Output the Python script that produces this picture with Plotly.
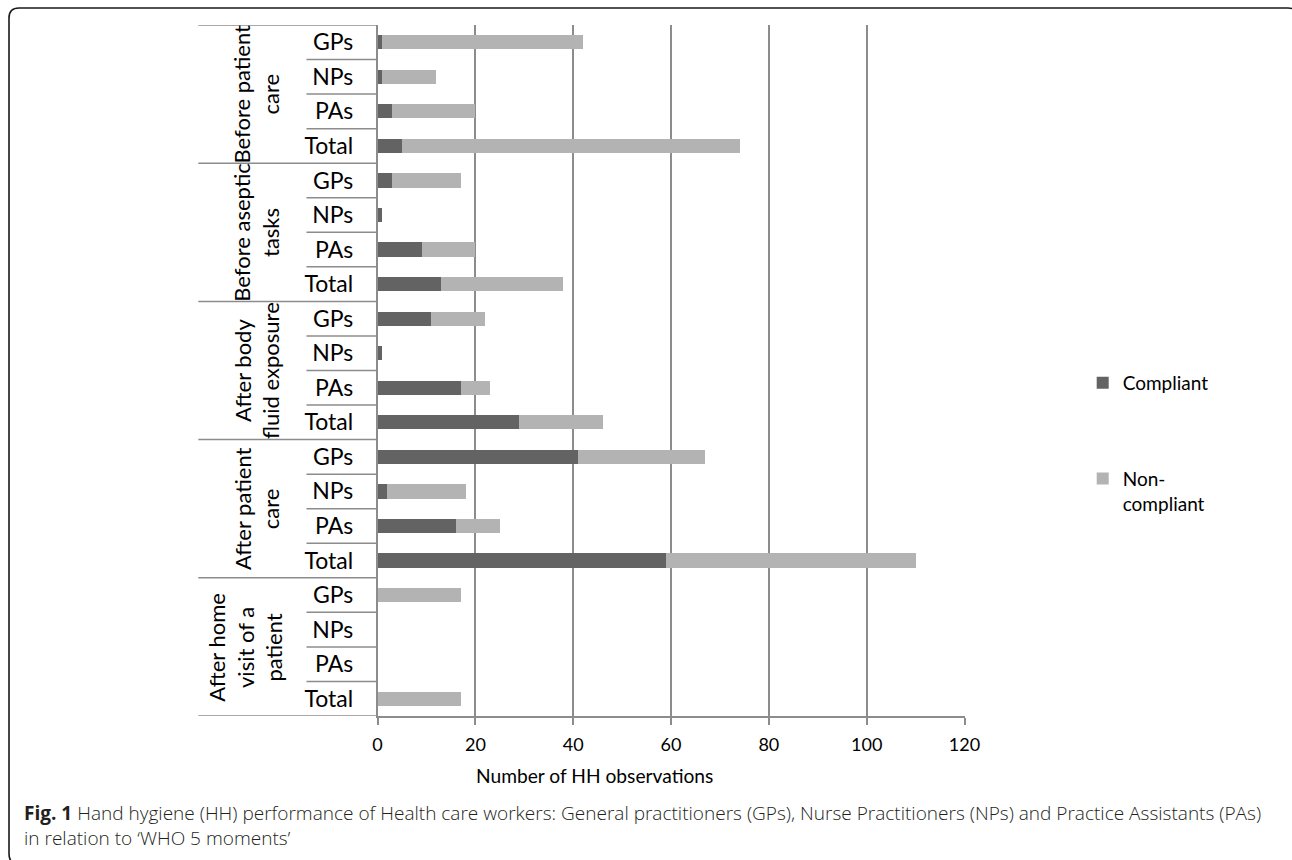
import plotly.graph_objects as go

W, H = 1292, 860

moments = ["Before patient<br>care", "Before aseptic<br>tasks", "After body<br>fluid exposure",
           "After patient<br>care", "After home<br>visit of a<br>patient"]
workers = ["GPs", "NPs", "PAs", "Total"]

compliant = [1, 1, 3, 5,
             3, 1, 9, 13,
             11, 1, 17, 29,
             41, 2, 16, 59,
             0, 0, 0, 0]
non_compliant = [41, 11, 17, 69,
                 14, 0, 11, 25,
                 11, 0, 6, 17,
                 26, 16, 9, 51,
                 17, 0, 0, 17]

x_ticks = [0, 20, 40, 60, 80, 100, 120]

rows = list(range(len(compliant)))
row_labels = [w for _ in moments for w in workers]

# empirical mapping of paper fraction -> screen pixel in the rendered page
X_OFF, X_SPAN = 5, 1269

def px(x):
    return (x - X_OFF) / X_SPAN

def py(y):
    return 1 - y / H

FONT = "Lato"
GRID = "#8c8c8c"

fig = go.Figure()
fig.add_trace(go.Bar(y=rows, x=compliant, orientation="h", name="Compliant",
                     marker=dict(color="#636363", line=dict(width=0)),
                     legendgroup="a", width=0.41))
fig.add_trace(go.Bar(y=rows, x=non_compliant, orientation="h", name="Non-<br>compliant",
                     marker=dict(color="#b3b3b3", line=dict(width=0)),
                     legendgroup="b", width=0.41))

shapes = []
n_per = len(workers)
for k in range(len(rows) + 1):
    yb = k - 0.5
    x0 = px(198) if k % n_per == 0 else px(306)
    shapes.append(dict(type="line", xref="paper", yref="y", x0=x0, x1=px(377),
                       y0=yb, y1=yb, line=dict(color=GRID, width=1.5)))

# frame
r = 10
x0f, y0f, x1f, y1f = 9, 8, 1296, 864
path = (f"M {px(x0f + r)},{py(y0f)} L {px(x1f - r)},{py(y0f)} "
        f"Q {px(x1f)},{py(y0f)} {px(x1f)},{py(y0f + r)} "
        f"L {px(x1f)},{py(y1f - r)} Q {px(x1f)},{py(y1f)} {px(x1f - r)},{py(y1f)} "
        f"L {px(x0f + r)},{py(y1f)} Q {px(x0f)},{py(y1f)} {px(x0f)},{py(y1f - r)} "
        f"L {px(x0f)},{py(y0f + r)} Q {px(x0f)},{py(y0f)} {px(x0f + r)},{py(y0f)} Z")
shapes.append(dict(type="path", xref="paper", yref="paper", path=path,
                   line=dict(color="#1a1a1a", width=1.6)))

annotations = []
group_x = [256, 256, 256, 256, 244.5]
for g, m in enumerate(moments):
    yc = g * n_per + (n_per - 1) / 2
    annotations.append(dict(text=m, xref="paper", yref="y", x=px(group_x[g]), y=yc,
                            textangle=-90, showarrow=False, xanchor="center", yanchor="middle",
                            font=dict(family=FONT, size=22, color="#000000")))

annotations.append(dict(text="Number of HH observations", xref="paper", yref="paper",
                        x=px(594), y=py(775), xanchor="center", yanchor="middle",
                        showarrow=False, font=dict(family=FONT, size=19.2, color="#000000")))

annotations.append(dict(
    text=("<b>Fig. 1</b> Hand hygiene (HH) performance of Health care workers: General practitioners (GPs), "
          "Nurse Practitioners (NPs) and Practice Assistants (PAs)<br>in relation to ‘WHO 5 moments’"),
    xref="paper", yref="paper", x=px(22), y=py(798), xanchor="left", yanchor="top",
    align="left", showarrow=False,
    font=dict(family="Open Sans", size=19.05, color="#231f20", weight=300)))

fig.update_layout(
    width=W, height=H,
    margin=dict(l=0, r=0, t=0, b=0),
    paper_bgcolor="white", plot_bgcolor="white",
    barmode="stack",
    font=dict(family=FONT, size=20, color="#000000"),
    xaxis=dict(domain=[px(377), px(963)], range=[0, 120], tickvals=x_ticks,
               showgrid=True, gridcolor=GRID, gridwidth=1.5, zeroline=False,
               showline=True, linecolor=GRID, linewidth=1.5,
               ticks="outside", ticklen=7, tickcolor=GRID, tickwidth=1.5,
               ticklabelstandoff=5,
               tickfont=dict(family=FONT, size=18),
               anchor="y"),
    yaxis=dict(domain=[py(716), py(25)], range=[len(rows) - 0.5, -0.5],
               tickvals=rows, ticktext=row_labels, showgrid=False, zeroline=False,
               showline=True, linecolor=GRID, linewidth=1.5, ticks="",
               ticklabelstandoff=18,
               tickfont=dict(family=FONT, size=23), anchor="x"),
    legend=dict(x=px(1081), y=py(364), xanchor="left", yanchor="top",
                tracegroupgap=68, valign="top", font=dict(family=FONT, size=19),
                bgcolor="rgba(0,0,0,0)"),
    shapes=shapes,
    annotations=annotations,
    showlegend=True,
)

post = ("document.documentElement.style.margin='0';document.body.style.margin='0';"
        "document.body.style.padding='0';document.documentElement.style.overflow='hidden';"
        "document.body.style.overflow='hidden';")
fig.write_html("out.html", config={"responsive": False, "displayModeBar": False}, post_script=post)
